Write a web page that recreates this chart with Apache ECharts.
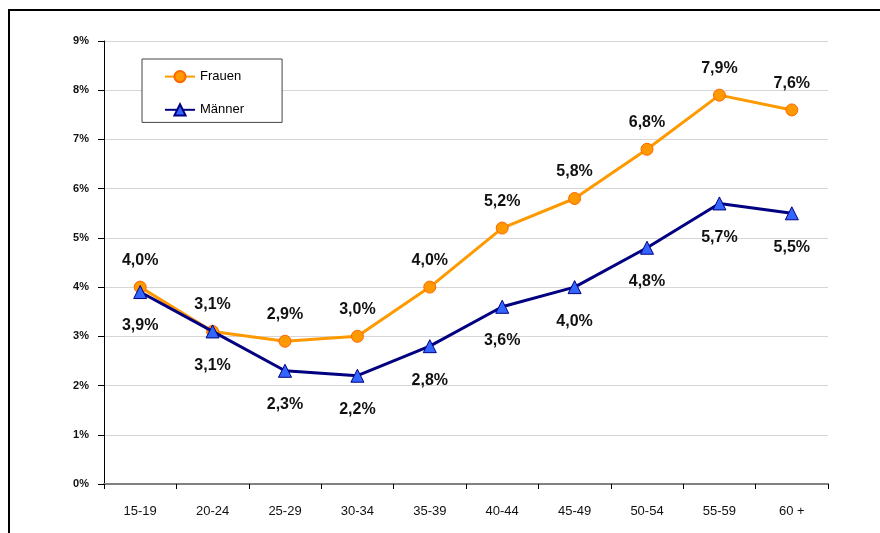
<!DOCTYPE html>
<html>
<head>
<meta charset="utf-8">
<script src="https://cdn.jsdelivr.net/npm/echarts@6/dist/echarts.min.js"></script>
<style>
html,body{margin:0;padding:0;background:#fff;}
#c{width:880px;height:533px;}
</style>
</head>
<body>
<div id="c"></div>
<script>
const categories = ['15-19','20-24','25-29','30-34','35-39','40-44','45-49','50-54','55-59','60 +'];
const frauen = [4.0, 3.1, 2.9, 3.0, 4.0, 5.2, 5.8, 6.8, 7.9, 7.6];
const maenner = [3.9, 3.1, 2.3, 2.2, 2.8, 3.6, 4.0, 4.8, 5.7, 5.5];
const yTicks = [0,1,2,3,4,5,6,7,8,9];

const FONT = '"Liberation Sans", Arial, sans-serif';
const fmt = v => v.toFixed(1).replace('.', ',') + '%';

const chart = echarts.init(document.getElementById('c'), null, {renderer:'canvas'});
chart.setOption({
  animation: false,
  backgroundColor: '#fff',
  textStyle: {fontFamily: FONT},
  graphic: [{
    type: 'rect', silent: true, z: 100,
    shape: {x: 9, y: 10, width: 1000, height: 1000},
    style: {fill: 'none', stroke: '#000', lineWidth: 2}
  }],
  grid: {left: 104, right: 52, top: 41, bottom: 49, containLabel: false},
  legend: {
    orient: 'vertical',
    left: 142, top: 59,
    padding: [11, 38, 6, 22],
    itemGap: 20,
    itemWidth: 30, itemHeight: 14,
    backgroundColor: '#fff',
    borderColor: '#444', borderWidth: 1,
    textStyle: {fontFamily: FONT, fontSize: 13, color: '#000'},
    data: ['Frauen', 'Männer']
  },
  xAxis: {
    type: 'category',
    data: categories,
    boundaryGap: true,
    axisLine: {show: true, lineStyle: {color: '#808080', width: 2}},
    axisTick: {show: true, length: 5, lineStyle: {color: '#000', width: 1}},
    axisLabel: {margin: 21, fontSize: 13, color: '#111', fontFamily: FONT},
    splitLine: {show: false}
  },
  yAxis: {
    type: 'value',
    min: 0, max: 9, interval: 1,
    axisLine: {show: true, lineStyle: {color: '#000', width: 1}},
    axisTick: {show: true, length: 6, inside: false, lineStyle: {color: '#000'}},
    axisLabel: {
      margin: 15, fontSize: 11, fontWeight: 'bold', color: '#111', fontFamily: FONT,
      formatter: v => yTicks.includes(v) ? v + '%' : ''
    },
    splitLine: {show: true, lineStyle: {color: '#d6d6d6', width: 1}}
  },
  series: [
    {
      name: 'Frauen',
      type: 'line',
      data: frauen,
      symbol: 'circle',
      symbolSize: 12,
      lineStyle: {color: '#FF9900', width: 3},
      itemStyle: {color: '#FF9900', borderColor: '#FF6600', borderWidth: 1},
      label: {
        show: true, position: 'top', distance: 12,
        fontFamily: FONT, fontSize: 16, fontWeight: 'bold', color: '#111',
        formatter: p => fmt(p.value)
      },
      z: 3
    },
    {
      name: 'Männer',
      type: 'line',
      data: maenner,
      symbol: 'triangle',
      symbolSize: 13,
      lineStyle: {color: '#000080', width: 3},
      itemStyle: {color: '#3366FF', borderColor: '#000080', borderWidth: 1},
      label: {
        show: true, position: 'bottom', distance: 19,
        fontFamily: FONT, fontSize: 16, fontWeight: 'bold', color: '#111',
        formatter: p => fmt(p.value)
      },
      z: 4
    }
  ]
});
</script>
</body>
</html>
